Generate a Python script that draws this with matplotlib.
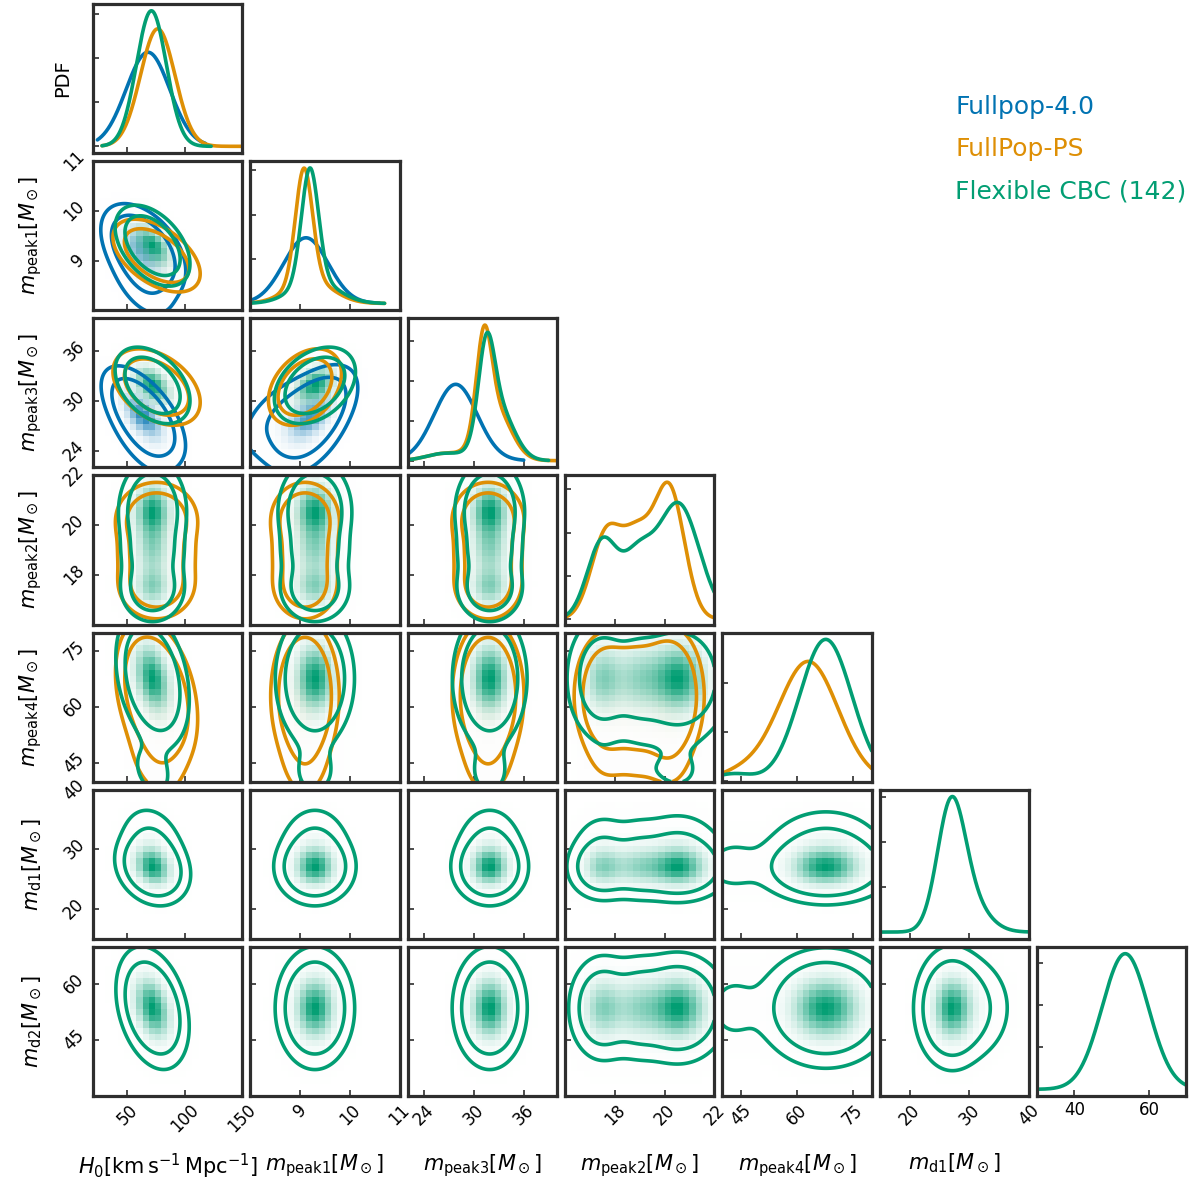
"""Corner plot of the population posteriors: H0 and the mass-spectrum peaks."""

import numpy as np
import matplotlib
matplotlib.use("Agg")
import matplotlib.pyplot as plt
from matplotlib.colors import LinearSegmentedColormap

PARAMS = ["H0", "mpeak1", "mpeak3", "mpeak2", "mpeak4", "md1", "md2"]
LABELS = [
    r"$H_0[\mathrm{km\,s^{-1}\,Mpc^{-1}}]$",
    r"$m_{\mathrm{peak1}}[M_\odot]$",
    r"$m_{\mathrm{peak3}}[M_\odot]$",
    r"$m_{\mathrm{peak2}}[M_\odot]$",
    r"$m_{\mathrm{peak4}}[M_\odot]$",
    r"$m_{\mathrm{d1}}[M_\odot]$",
    r"$m_{\mathrm{d2}}[M_\odot]$",
]
LIMITS = [(20, 150), (8, 11), (22, 40), (16, 22), (40, 80), (15, 40), (30, 70)]
TICKS = [[50, 100, 150], [9, 10, 11], [24, 30, 36], [18, 20, 22],
         [45, 60, 75], [20, 30, 40], [45, 60]]
MD2_DIAG_TICKS = [40, 60]

# credible mass enclosed by the two contours
LEVELS = [0.865, 0.975]

# 1D posteriors: per parameter a list of (mean, sigma, weight) components
FULLPOP40_COMPS = {
    "H0": [(68.0, 19.0, 1.0)],
    "mpeak1": [(9.12, 0.45, 1.0)],
    "mpeak3": [(27.8, 2.6, 1.0)],
}
# joint (2D) shapes where they differ from the 1D curves
FULLPOP40_JOINT = {
    "H0": [(64.0, 13.5, 1.0)],
    "mpeak1": [(9.22, 0.34, 0.85), (8.7, 0.4, 0.15)],
    "mpeak3": [(28.3, 2.2, 0.9), (25.5, 2.3, 0.1)],
}
FULLPOP40_SUPPORT = {"H0": (24, 118), "mpeak1": (7.0, 10.6), "mpeak3": (18, 36)}
FULLPOP40_RHO = {("H0", "mpeak1"): -0.45, ("H0", "mpeak3"): -0.6,
                 ("mpeak1", "mpeak3"): 0.55}

FULLPOP_PS_COMPS = {
    "H0": [(76.5, 15.0, 1.0)],
    "mpeak1": [(9.08, 0.17, 0.65), (9.2, 0.45, 0.35)],
    "mpeak3": [(31.2, 0.9, 0.42), (32.5, 1.9, 0.5), (26.5, 2.2, 0.08)],
    "mpeak2": [(17.65, 0.6, 0.29), (18.9, 0.6, 0.265), (20.2, 0.6, 0.445)],
    "mpeak4": [(63.0, 8.0, 0.95), (45.0, 6.0, 0.05)],
}
FULLPOP_PS_JOINT = {
    "H0": [(75.5, 14.0, 1.0)],
    "mpeak1": [(9.1, 0.27, 1.0)],
    "mpeak3": [(31.7, 1.7, 1.0)],
}
FULLPOP_PS_SUPPORT = {"H0": (28, 150), "mpeak1": (8, 10.7), "mpeak3": (22, 40),
                      "mpeak2": (16, 22), "mpeak4": (40, 80)}
FULLPOP_PS_RHO = {("H0", "mpeak1"): -0.5, ("H0", "mpeak3"): -0.4,
                  ("mpeak1", "mpeak3"): 0.35, ("H0", "mpeak4"): -0.3}

FLEXIBLE_COMPS = {
    "H0": [(71.0, 13.0, 1.0)],
    "mpeak1": [(9.2, 0.17, 0.65), (9.3, 0.45, 0.35)],
    "mpeak3": [(31.5, 0.95, 0.4), (32.8, 1.9, 0.52), (26.5, 2.2, 0.08)],
    "mpeak2": [(17.5, 0.6, 0.263), (18.9, 0.6, 0.184), (20.55, 0.85, 0.553)],
    "mpeak4": [(67.7, 7.0, 0.965), (43.0, 5.0, 0.035)],
    "md1": [(26.9, 2.3, 0.72), (29.6, 3.2, 0.28)],
    "md2": [(53.6, 6.2, 1.0)],
}
FLEXIBLE_JOINT = {
    "H0": [(72.0, 12.0, 1.0)],
    "mpeak1": [(9.3, 0.3, 1.0)],
    "mpeak3": [(31.9, 1.7, 1.0)],
}
FLEXIBLE_SUPPORT = {"H0": (28, 123), "mpeak1": (8, 10.7), "mpeak3": (22, 39),
                    "mpeak2": (16, 22), "mpeak4": (40, 80), "md1": (15, 40),
                    "md2": (30, 70)}
FLEXIBLE_RHO = {("H0", "mpeak1"): -0.45, ("H0", "mpeak3"): -0.4,
                ("mpeak1", "mpeak3"): 0.35, ("H0", "mpeak4"): -0.3,
                ("H0", "md1"): -0.2, ("H0", "md2"): -0.3}

NAMES = ["Fullpop-4.0", "FullPop-PS", "Flexible CBC (142)"]
COLORS = ["#0173B2", "#DE8F05", "#029E73"]
SHADE_ALPHA = [0.8, 0.08, 1.0]
RUNS = [
    (FULLPOP40_COMPS, FULLPOP40_JOINT, FULLPOP40_SUPPORT, FULLPOP40_RHO),
    (FULLPOP_PS_COMPS, FULLPOP_PS_JOINT, FULLPOP_PS_SUPPORT, FULLPOP_PS_RHO),
    (FLEXIBLE_COMPS, FLEXIBLE_JOINT, FLEXIBLE_SUPPORT, FLEXIBLE_RHO),
]

FRAME = "#2e2e2e"
LW = 2.6
NBINS = 24


def pdf1d(x, comps):
    out = np.zeros_like(x, dtype=float)
    for mu, sig, w in comps:
        out += w * np.exp(-0.5 * ((x - mu) / sig) ** 2) / (sig * np.sqrt(2 * np.pi))
    return out


def pdf2d(X, Y, cx, cy, rho):
    out = np.zeros_like(X, dtype=float)
    norm = np.sqrt(1 - rho ** 2)
    for mx, sx, wx in cx:
        for my, sy, wy in cy:
            u = (X - mx) / sx
            v = (Y - my) / sy
            q = (u * u - 2 * rho * u * v + v * v) / (1 - rho ** 2)
            out += wx * wy * np.exp(-0.5 * q) / (2 * np.pi * sx * sy * norm)
    return out


def get_rho(rhos, a, b):
    return rhos.get((a, b), rhos.get((b, a), 0.0))


def mass_levels(Z, fracs):
    z = np.sort(Z.ravel())[::-1]
    c = np.cumsum(z)
    c /= c[-1]
    return sorted(z[min(np.searchsorted(c, f), len(z) - 1)] for f in fracs)


def shade_cmap(color, alpha):
    rgba = matplotlib.colors.to_rgba(color, alpha)
    return LinearSegmentedColormap.from_list("shade", [(1, 1, 1, 0), rgba])


def draw_diag(ax, k):
    p = PARAMS[k]
    for (comps, _, support, _), color in zip(RUNS, COLORS):
        if p not in comps:
            continue
        x = np.linspace(*support[p], 400)
        y = pdf1d(x, comps[p])
        y /= np.trapezoid(y, x)
        ax.plot(x, y, color=color, lw=LW, solid_capstyle="round")
    ax.set_xlim(*LIMITS[k])


def draw_pair(ax, i, j):
    px, py = PARAMS[j], PARAMS[i]
    ex = np.linspace(*LIMITS[j], NBINS + 1)
    ey = np.linspace(*LIMITS[i], NBINS + 1)
    CX, CY = np.meshgrid(0.5 * (ex[1:] + ex[:-1]), 0.5 * (ey[1:] + ey[:-1]))
    active = []
    for (comps, joint, support, rhos), color, alpha in zip(RUNS, COLORS, SHADE_ALPHA):
        if px not in comps or py not in comps:
            continue
        cx = joint.get(px, comps[px])
        cy = joint.get(py, comps[py])
        rho = get_rho(rhos, px, py)
        active.append((cx, cy, support, rho, color))
        # binned density as background shading
        H = pdf2d(CX, CY, cx, cy, rho)
        inside = ((CX >= support[px][0]) & (CX <= support[px][1]) &
                  (CY >= support[py][0]) & (CY <= support[py][1]))
        H = np.where(inside, H, 0.0)
        ax.pcolormesh(ex, ey, H / H.max(), cmap=shade_cmap(color, alpha),
                      vmin=0, vmax=1, shading="flat", rasterized=True)
    for cx, cy, support, rho, color in active:
        X, Y = np.meshgrid(np.linspace(*support[px], 220),
                           np.linspace(*support[py], 220))
        Z = pdf2d(X, Y, cx, cy, rho)
        ax.contour(X, Y, Z, levels=mass_levels(Z, LEVELS), colors=[color],
                   linewidths=LW)
    ax.set_xlim(*LIMITS[j])
    ax.set_ylim(*LIMITS[i])


n = len(PARAMS)
fig, axes = plt.subplots(n, n, figsize=(11.9, 11.79), dpi=100)
fig.subplots_adjust(left=0.078, right=0.997, bottom=0.0704, top=0.9966,
                    wspace=0.054, hspace=0.054)

for i in range(n):
    for j in range(n):
        ax = axes[i, j]
        if j > i:
            ax.axis("off")
            continue
        if i == j:
            draw_diag(ax, i)
        else:
            draw_pair(ax, i, j)
        for s in ax.spines.values():
            s.set_color(FRAME)
            s.set_linewidth(2.3)
        ax.tick_params(direction="in", length=4, width=1.2, color=FRAME,
                       labelsize=12, top=False, right=False)
        ax.set_xticks(TICKS[j])
        if i != j:
            ax.set_yticks(TICKS[i])
        else:
            ax.yaxis.set_major_locator(plt.MaxNLocator(4))
        ax.set_xlim(*LIMITS[j])

        if i == n - 1:
            if j == n - 1:
                ax.set_xticks(MD2_DIAG_TICKS)
            else:
                ax.set_xlabel(LABELS[j], fontsize=15)
                ax.xaxis.set_label_coords(0.5, -0.375)
                plt.setp(ax.get_xticklabels(), rotation=45, ha="center",
                         va="top")
        else:
            ax.tick_params(labelbottom=False)

        if j == 0 and i > 0:
            ax.set_ylabel(LABELS[i], fontsize=15)
            ax.yaxis.set_label_coords(-0.33, 0.5)
            plt.setp(ax.get_yticklabels(), rotation=45, ha="right",
                     va="center")
        else:
            ax.tick_params(labelleft=False)

axes[0, 0].set_ylabel("PDF", fontsize=14)
axes[0, 0].yaxis.set_label_coords(-0.14, 0.5)

for k, (name, color) in enumerate(zip(NAMES, COLORS)):
    fig.text(955 / 1190, 1 - (107 + 42 * k) / 1179, name, color=color,
             fontsize=18, ha="left", va="center")

fig.savefig("out.png", dpi=100)
